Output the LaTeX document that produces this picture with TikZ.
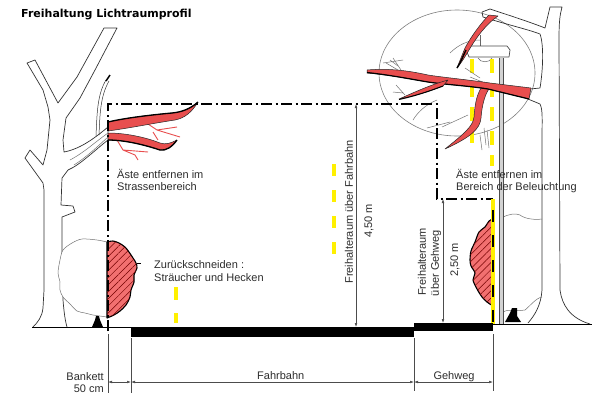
\documentclass[tikz,border=0pt]{standalone}
\usepackage{fontspec}
\setmainfont{Liberation Sans}
\newfontfamily\titlefont{DejaVu Sans}
\usetikzlibrary{arrows.meta,patterns.meta}
\definecolor{brred}{RGB}{232,78,78}
\definecolor{bushred}{RGB}{242,112,112}
\definecolor{ylw}{RGB}{255,240,0}
\definecolor{txt}{RGB}{45,45,45}
\begin{document}
\begin{tikzpicture}[x=1pt,y=-1pt,
  outline/.style={draw=black!80,line width=0.7pt,line join=round},
  twig/.style={draw=black!55,line width=0.5pt},
  redtwig/.style={draw=brred,line width=0.9pt},
  redbranch/.style={fill=brred,draw=black!85,line width=0.5pt,line join=round},
  profile/.style={line width=1.5pt,dash pattern=on 11pt off 3.5pt on 2pt off 3.5pt},
  ylwdash/.style={draw=ylw,line width=4.5pt,dash pattern=on 12pt off 14pt},
  dimline/.style={draw=black!70,line width=0.5pt},
  dimarrow/.style={dimline,{Latex[length=4pt,width=2.6pt]}-{Latex[length=4pt,width=2.6pt]}},
  lbl/.style={font=\fontsize{11}{13}\selectfont,text=txt,inner sep=0pt},
  hatchbush/.style={fill=bushred,postaction={pattern={Lines[angle=45,distance=5pt,line width=0.5pt]},pattern color=red!45!black},draw=black,line width=1.1pt,line join=round},
  whitebush/.style={fill=white,draw=black!55,line width=0.5pt},
]
\useasboundingbox (0,0) rectangle (600,400);
\fill[white] (0,0) rectangle (600,400);

% ---------- title ----------
\node[anchor=base west,inner sep=0pt,font=\titlefont\bfseries\fontsize{11}{13}\selectfont] (title) at (21,17) {Freihaltung Lichtraumprofil};

% ---------- right tree crown circle ----------
\draw[black!50,line width=0.6pt] (457,73) ellipse [x radius=78pt, y radius=63pt];

% ---------- right tree ----------
\draw[outline] (482,12) -- (490,9) .. controls (505,14) and (530,22) .. (545,28) -- (550,7) -- (562,7)
  .. controls (560,15) and (559,20) .. (559,40) -- (560,290) .. controls (562,305) and (570,318) .. (590,324);
\draw[outline] (482,12) -- (483,17) .. controls (505,24) and (530,30) .. (540,34)
  .. controls (544,45) and (543,70) .. (540,88) -- (530,89);
\draw[outline] (528,99) -- (540,104) .. controls (543,110) and (542,120) .. (542,140) -- (542,290)
  .. controls (541,305) and (535,315) .. (528,323);
% right bush (white)
\draw[twig] (503,217) .. controls (510,214) and (515,213) .. (520,215) .. controls (525,219) and (535,220) .. (542,219);
\draw[twig] (503,312) .. controls (510,308) and (518,312) .. (525,310) .. controls (530,306) and (536,298) .. (542,297);
\fill (505,322) -- (510,313) -- (512,308) -- (517,308) -- (517,316) -- (521,322) -- cycle;

% ---------- lamp ----------
\fill[gray!35] (499,58) rectangle (503,324);
\draw[gray!60!black,line width=0.6pt] (499,58) -- (499,324) (503,58) -- (503,324);
\draw[black!60,line width=0.5pt] (480,35) -- (480,46);
\draw[fill=white,draw=black!70,line width=0.7pt,line join=round] (470,46) -- (507,46) -- (510,50) -- (509,57) -- (469,57) -- (467,52) -- cycle;
\draw[black!60,line width=0.5pt] (478,58) .. controls (480,63) and (490,63) .. (492,58);

% ---------- yellow light dashes ----------
\draw[ylwdash,dash pattern=on 14pt off 10pt] (472,59) -- (472,143);
\draw[ylwdash,dash pattern=on 14pt off 10pt] (492,59) -- (492,166);
\draw[ylwdash] (334,164) -- (334,254);
\draw[ylwdash,dash pattern=on 13pt off 13pt] (176,287) -- (176,323);

% ---------- right crown twigs ----------
\draw[twig] (450,53) .. controls (458,45) and (468,40) .. (480,40);
\draw[twig] (386,63) -- (398,70) (393,58) -- (401,70);
\draw[twig] (383,63) -- (403,60) (390,60) -- (398,66);
\draw[twig] (393,92) -- (403,93) (396,85) -- (405,95);
\draw[twig] (465,68) -- (480,78) (465,80) -- (480,83) (470,77) -- (485,83);
\draw[twig] (413,120) .. controls (418,112) and (425,105) .. (437,100);
\draw[twig] (427,128) -- (450,122) (442,127) -- (468,115);
\draw[twig] (487,130) -- (489,148) (480,135) -- (482,150) (484,128) -- (486,145);

% ---------- right red branches ----------
\draw[redbranch] (492,85) .. controls (485,92) and (482,105) .. (481,118) .. controls (480,129) and (471,137) .. (445,149)
  .. controls (465,133) and (473,126) .. (474,117) .. controls (475,103) and (477,92) .. (484,84) -- cycle;
\draw[redbranch] (367,70) .. controls (390,68) and (410,71) .. (428,75) .. controls (440,77) and (470,80) .. (490,83) -- (531,88)
  -- (529,99) -- (488,89) .. controls (470,86) and (440,84) .. (428,82) .. controls (410,79) and (390,75) .. (367,73) -- cycle;
\draw[line width=1.2pt] (367,72.5) .. controls (390,75) and (410,79) .. (428,82) .. controls (440,84) and (470,86) .. (488,89) -- (529,99);
\draw[redbranch] (448,80) .. controls (430,85) and (415,92) .. (399,99) .. controls (415,96) and (430,91) .. (443,86) -- cycle;
\draw[line width=1pt] (399,99.5) .. controls (415,96) and (430,91) .. (443,86);
\draw[redbranch] (498,16) .. controls (486,24) and (476,38) .. (469,50) .. controls (466,55) and (462,62) .. (457,68)
  .. controls (460,60) and (463,53) .. (465,48) .. controls (472,35) and (482,22) .. (489,15) -- cycle;
\draw[line width=1.4pt] (466,50) .. controls (463,56) and (461,62) .. (457,68);

% ---------- left tree ----------
\draw[outline,fill=white] (33,327) .. controls (38,322) and (42,317) .. (43,308) -- (44,290) -- (44,190) -- (43,183)
  -- (25,158) -- (30,150) -- (43,165) -- (47,150) -- (50,120) -- (48,107) -- (43,90) -- (27,63) -- (35,60)
  -- (58,103) -- (77,77) -- (104,28) -- (117,28) -- (95,70) -- (80,98) -- (66,118) -- (63,140) -- (64,152)
  .. controls (75,150) and (88,144) .. (108,127) -- (108,140) .. controls (95,150) and (80,165) .. (68,170)
  -- (62,178) -- (61,205) -- (73,206) -- (75,212) -- (62,217) -- (62,260) -- (63,300) .. controls (64,312) and (65,320) .. (67,327);
\draw[twig] (70,160) .. controls (85,152) and (95,142) .. (108,133);
\draw[twig] (74,165) .. controls (88,156) and (98,146) .. (108,137);
\draw[outline,line width=0.5pt] (96,136) .. controls (97,115) and (97,95) .. (106,80);
\draw[outline,line width=0.5pt] (99,135) .. controls (100,115) and (100,97) .. (109,81);
\draw[line width=1.4pt] (106,81) -- (110,75);

% ---------- left red branches ----------
\draw[redtwig] (145,122) -- (157,130) -- (180,137) (157,130) -- (177,127) (153,132) -- (158,140);
\draw[redtwig] (117,140) -- (123,150) -- (135,155) -- (138,160) (123,150) -- (148,152);
\draw[redbranch] (108,122) .. controls (125,118) and (150,115) .. (172,113) .. controls (182,112) and (190,109) .. (198,102)
  .. controls (192,112) and (185,118) .. (175,120) .. controls (155,123) and (130,128) .. (108,131) -- cycle;
\draw[line width=1.3pt] (108,122) .. controls (125,118) and (150,115) .. (172,113) .. controls (182,112) and (190,109) .. (198,102);
\draw[redbranch] (108,133) .. controls (125,133) and (145,137) .. (160,143) .. controls (166,145) and (171,143) .. (177,140)
  .. controls (172,147) and (166,151) .. (160,150) .. controls (145,145) and (125,140) .. (108,140) -- cycle;
\draw[line width=1.3pt] (108,140) .. controls (125,140) and (145,145) .. (160,150) .. controls (166,151) and (172,147) .. (177,140);

% ---------- left bush ----------
\draw[whitebush] plot[smooth] coordinates {(107,242) (97,240) (82,239) (72,243) (63,250) (60,260) (58,273) (60,282) (60,290) (63,297) (70,304) (77,311) (85,313) (93,315) (100,316) (107,317)} -- cycle;
\fill (92,327) -- (95,320) -- (96,316) -- (99,316) -- (100,320) -- (103,327) -- cycle;
\draw[hatchbush] plot[smooth] coordinates {(107,242) (113,241) (119,243) (125,247) (129,252) (133,258) (136,263) (137,268) (134,275) (134,282) (131,290) (130,297) (126,305) (120,311) (114,315) (107,318)} -- cycle;
\draw[line width=1pt] (137,263) -- (141,263);

% ---------- right hatched bush ----------
\draw[hatchbush] plot[smooth] coordinates {(493,219) (489,221) (485,227) (479,232) (475,242) (471,251) (470,260) (471,266) (475,273) (473,280) (477,289) (482,297) (487,302) (493,306)} -- cycle;

% ---------- clearance profile ----------
\draw[profile] (108,331) -- (108,104) -- (437,104) -- (437,199) -- (493,199);
\draw[draw=ylw,line width=4pt] (493,199) -- (493,325);
\draw[line width=1.5pt,dash pattern=on 12pt off 13pt] (493,210) -- (493,333);

% ---------- ground, road, walkway ----------
\draw[line width=0.8pt] (32,327) -- (131,327);
\fill (131,327) rectangle (414,337);
\fill (414,323) rectangle (493,331);
\draw[line width=0.8pt] (493,324) -- (592,324);

% ---------- vertical dimensions ----------
\coordinate (fbtop) at (356,104);
\coordinate (fbbot) at (356,327);
\draw[dimarrow] (fbtop) -- (fbbot);
\node[lbl,rotate=90] (fbtext) at (349,212) {Freihalteraum über Fahrbahn};
\node[lbl,rotate=90] (fbval) at (369,221) {4,50 m};
\coordinate (gwtop) at (443,199);
\coordinate (gwbot) at (443,323);
\draw[dimarrow] (gwtop) -- (gwbot);
\node[lbl,rotate=90] (gwtext1) at (422,262) {Freihalteraum};
\node[lbl,rotate=90] (gwtext2) at (436,263) {über Gehweg};
\node[lbl,rotate=90] (gwval) at (455,260) {2,50 m};

% ---------- horizontal dimensions ----------
\coordinate (e1) at (108,382);
\coordinate (e2) at (131,382);
\coordinate (e3) at (414,382);
\coordinate (e4) at (493,382);
\draw[dimline] (108,334) -- (108,393) (131,338) -- (131,393) (414,338) -- (414,391) (493,334) -- (493,391);
\draw[dimarrow] (e1) -- (e2);
\draw[dimarrow] (e2) -- (e3);
\draw[dimarrow] (e3) -- (e4);
\node[lbl,anchor=base east] (bank1) at (104,380) {Bankett};
\node[lbl,anchor=base east] (bank2) at (104,392) {50 cm};
\node[lbl,anchor=base west] (fahr) at (257,379) {Fahrbahn};
\node[lbl,anchor=base] (geh) at (454,379) {Gehweg};

% ---------- texts ----------
\node[lbl,anchor=base west] (l1) at (117,178) {Äste entfernen im};
\node[lbl,anchor=base west] (l2) at (117,190) {Strassenbereich};
\node[lbl,anchor=base west] (r1) at (456,178) {Äste entfernen im};
\node[lbl,anchor=base west] (r2) at (456,190) {Bereich der Beleuchtung};
\node[lbl,anchor=base west] (z1) at (154,268) {Zurückschneiden :};
\node[lbl,anchor=base west] (z2) at (154,281) {Sträucher und Hecken};
\end{tikzpicture}
\end{document}
